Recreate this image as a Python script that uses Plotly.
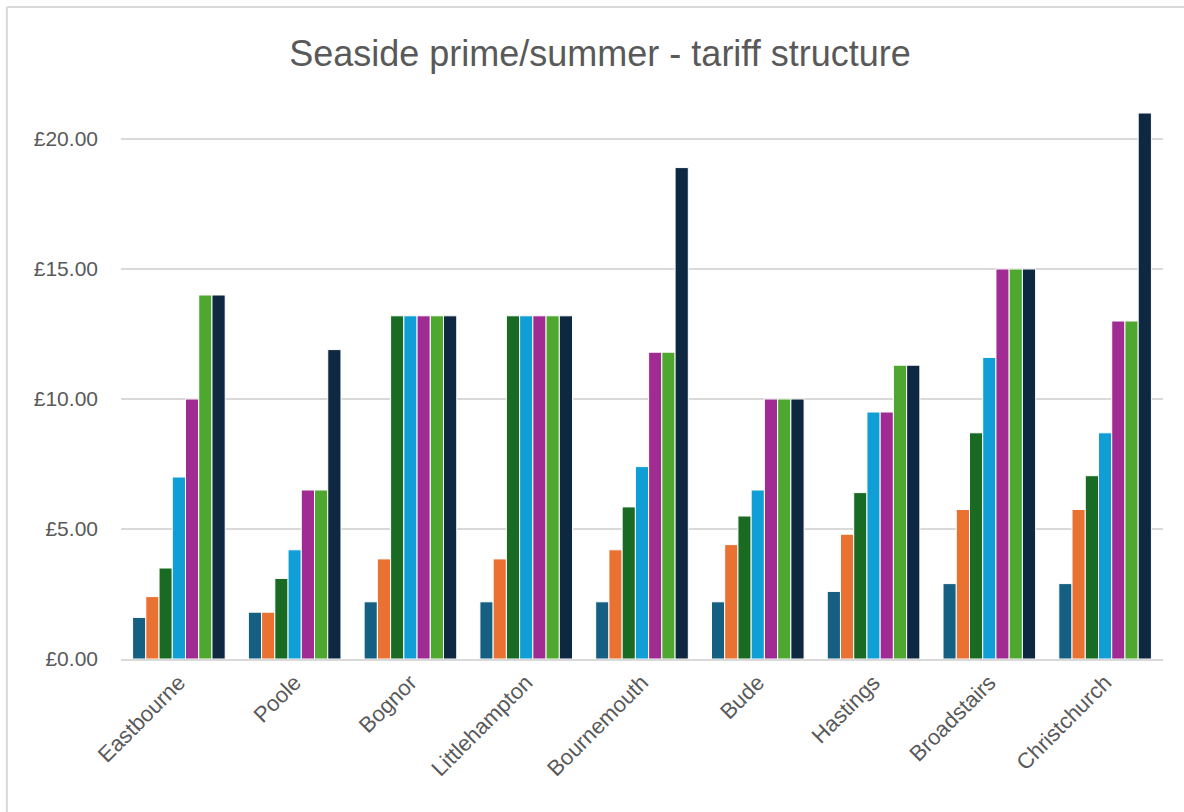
import plotly.graph_objects as go

towns = ["Eastbourne", "Poole", "Bognor", "Littlehampton", "Bournemouth",
         "Bude", "Hastings", "Broadstairs", "Christchurch"]

# Seven tariff bands per town (prime/summer prices, £)
band_1 = [1.60, 1.80, 2.20, 2.20, 2.20, 2.20, 2.60, 2.90, 2.90]
band_2 = [2.40, 1.80, 3.85, 3.85, 4.20, 4.40, 4.80, 5.75, 5.75]
band_3 = [3.50, 3.10, 13.20, 13.20, 5.85, 5.50, 6.40, 8.70, 7.05]
band_4 = [7.00, 4.20, 13.20, 13.20, 7.40, 6.50, 9.50, 11.60, 8.70]
band_5 = [10.00, 6.50, 13.20, 13.20, 11.80, 10.00, 9.50, 15.00, 13.00]
band_6 = [14.00, 6.50, 13.20, 13.20, 11.80, 10.00, 11.30, 15.00, 13.00]
band_7 = [14.00, 11.90, 13.20, 13.20, 18.90, 10.00, 11.30, 15.00, 21.00]

y_ticks = [0, 5, 10, 15, 20]
y_tick_labels = ["£0.00", "£5.00", "£10.00", "£15.00", "£20.00"]

bands = [band_1, band_2, band_3, band_4, band_5, band_6, band_7]
colors = ["#156082", "#E97132", "#196B24", "#0F9ED5", "#A02B93", "#4EA72E", "#0E2841"]

fig = go.Figure()
for i, (vals, col) in enumerate(zip(bands, colors)):
    fig.add_trace(go.Bar(
        x=towns, y=vals, name=f"Band {i + 1}",
        marker=dict(color=col, line=dict(color="white", width=1)),
        hovertemplate="%{x}: £%{y:.2f}<extra></extra>",
    ))

grey = "#595959"
grid = "#D9D9D9"

fig.update_layout(
    width=1184, height=812,
    margin=dict(l=121, r=21, t=87, b=153),
    paper_bgcolor="white", plot_bgcolor="white",
    barmode="group", bargap=0.2, bargroupgap=0,
    showlegend=False,
    title=dict(text="Seaside prime/summer - tariff structure",
               x=600 / 1184, xanchor="center", xref="container",
               y=1 - 53 / 812, yanchor="middle", yref="container",
               font=dict(family="Liberation Sans, Arial, sans-serif",
                         size=36, color=grey)),
    font=dict(family="Liberation Sans, Arial, sans-serif", color=grey),
    xaxis=dict(tickangle=-45, tickfont=dict(size=22, color=grey),
               showgrid=False, showline=True, linecolor=grid, linewidth=2,
               ticks=""),
    yaxis=dict(range=[0, 22], tickmode="array",
               tickvals=y_ticks, ticktext=y_tick_labels,
               tickfont=dict(size=21, color=grey),
               showgrid=True, gridcolor=grid, gridwidth=2,
               zeroline=False, showline=False, ticks="",
               ticklabelstandoff=22),
    shapes=[
        # chart frame (left and top edges)
        dict(type="line", xref="paper", yref="paper",
             x0=(7 - 121) / 1041, x1=(7 - 121) / 1041,
             y0=(659 - 7) / 572, y1=-1.0,
             line=dict(color=grid, width=2)),
        dict(type="line", xref="paper", yref="paper",
             x0=(7 - 121) / 1041, x1=1.2,
             y0=(659 - 7) / 572, y1=(659 - 7) / 572,
             line=dict(color=grid, width=2)),
    ],
)

fig.write_html("out.html")
